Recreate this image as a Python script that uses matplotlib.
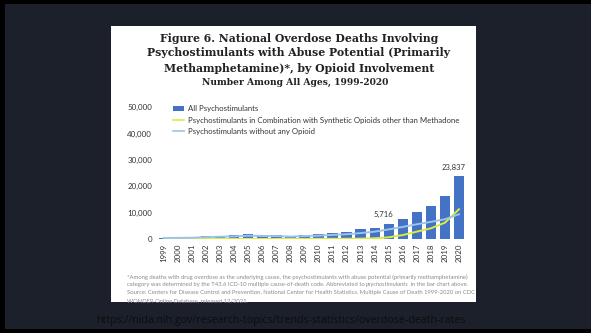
import matplotlib
matplotlib.use("Agg")
import matplotlib.pyplot as plt
from matplotlib.patches import Rectangle, Patch
from matplotlib.lines import Line2D

# Overdose deaths involving psychostimulants, 1999-2020
years = [str(y) for y in range(1999, 2021)]
all_psychostimulants = [547, 578, 660, 987, 1216, 1398, 1742, 1621, 1573, 1292, 1632,
                        1854, 2266, 2635, 3627, 4298, 5716, 7542, 10333, 12676, 16167, 23837]
with_synthetic_opioids = [10, 10, 15, 15, 20, 20, 25, 25, 30, 30, 40,
                          50, 70, 100, 140, 280, 640, 1500, 2800, 4050, 6200, 11300]
without_any_opioid = [400, 430, 480, 720, 880, 1000, 1250, 1150, 1120, 900, 1130,
                      1280, 1550, 1800, 2250, 2800, 3650, 4600, 5600, 6500, 7500, 9400]
labelled_years = ["2015", "2020"]
y_ticks = [0, 10000, 20000, 30000, 40000, 50000]

series_names = ["All Psychostimulants",
                "Psychostimulants in Combination with Synthetic Opioids other than Methadone",
                "Psychostimulants without any Opioid"]

title_lines = ["Figure 6. National Overdose Deaths Involving",
               "Psychostimulants with Abuse Potential (Primarily",
               "Methamphetamine)*, by Opioid Involvement"]
subtitle = "Number Among All Ages, 1999-2020"
# each footnote line is a list of (text, italic) runs
footnote_lines = [
    [("*Among deaths with drug overdose as the underlying cause, the psychostimulants with abuse potential (primarily methamphetamine)", False)],
    [("category was determined by the T43.6 ICD-10 multiple cause-of-death code. Abbreviated to ", False),
     ("psychostimulants", True),
     (" in the bar chart above.", False)],
    [("Source: Centers for Disease Control and Prevention, National Center for Health Statistics. Multiple Cause of Death 1999-2020 on CDC", False)],
    [("WONDER Online Database, released 12/2021.", False)],
]
source_url = "https://nida.nih.gov/research-topics/trends-statistics/overdose-death-rates"

W, H = 591, 333
BG = "#1b202b"
BAR = "#4472c4"
YELLOW = "#dcec3c"
LIGHTBLUE = "#9dc3e6"
TEXT = "#333333"


def fx(x):
    return x / W


def fy(y):
    return 1 - y / H


fig = plt.figure(figsize=(W / 100, H / 100), dpi=100)
fig.patch.set_facecolor(BG)
renderer = fig.canvas.get_renderer()

# slide frame
for (x0, y0, x1, y1, c) in [(0, 0, W, 4, "black"), (0, 0, 5, H, "black"),
                            (0, 329, W, H, "black"), (111, 26, 476, 302, "white")]:
    fig.add_artist(Rectangle((fx(x0), fy(y1)), fx(x1) - fx(x0), (y1 - y0) / H,
                             transform=fig.transFigure, facecolor=c,
                             edgecolor="none", zorder=0))

serif = "DejaVu Serif"
for i, line in enumerate(title_lines):
    fig.text(fx(299), fy(38 + i * 15), line, ha="center", va="center",
             fontsize=7.8, fontweight="bold", family=serif, color="#222222")
fig.text(fx(295), fy(82), subtitle, ha="center", va="center",
         fontsize=6.6, fontweight="bold", family=serif, color="#222222")

# chart area
ax_left, ax_right = 157, 466
ax_top, ax_bottom = 107.3, 239
ax = fig.add_axes([fx(ax_left), fy(ax_bottom), (ax_right - ax_left) / W,
                   (ax_bottom - ax_top) / H])
ax.set_facecolor("none")
x = list(range(len(years)))
ax.bar(x, all_psychostimulants, width=0.74, color=BAR, zorder=2)
ax.plot(x, with_synthetic_opioids, color=YELLOW, lw=1.4, zorder=3)
ax.plot(x, without_any_opioid, color=LIGHTBLUE, lw=1.4, zorder=3)

for yr in labelled_years:
    i = years.index(yr)
    v = all_psychostimulants[i]
    ax.annotate(f"{v:,}", (i, v), xytext=(-4, 4), textcoords="offset points",
                ha="center", va="bottom", fontsize=5.6, family="Lato",
                color=TEXT)

ax.set_xlim(-0.5, len(years) - 0.5)
ax.set_ylim(0, 50000)
ax.set_yticks(y_ticks)
ax.set_yticklabels([f"{t:,}" for t in y_ticks])
ax.set_xticks(x)
ax.set_xticklabels(years, rotation=90)
for s in ax.spines.values():
    s.set_visible(False)
ax.tick_params(length=0, labelsize=5.7, labelcolor=TEXT, pad=3.5)
for lab in ax.get_xticklabels() + ax.get_yticklabels():
    lab.set_family("Lato")

handles = [Patch(facecolor=BAR, edgecolor="none"),
           Line2D([], [], color=YELLOW, lw=1.2),
           Line2D([], [], color=LIGHTBLUE, lw=1.2)]
fig.legend(handles, series_names, loc="upper left",
           bbox_to_anchor=(fx(168), fy(100)), frameon=False,
           prop={"family": "Lato", "size": 5.6}, labelcolor=TEXT,
           handlelength=1.4, handleheight=0.6, handletextpad=0.5,
           labelspacing=0.55, borderpad=0.2)

# footnote, with runs laid out one after another
for i, runs in enumerate(footnote_lines):
    cursor = 127.0
    for text, italic in runs:
        t = fig.text(fx(cursor), fy(277 + i * 7.8), text, ha="left", va="center",
                     fontsize=4.2, family="Lato",
                     style="italic" if italic else "normal", color="#8a8a8a")
        cursor += t.get_window_extent(renderer).width

fig.text(fx(96), fy(320), source_url, ha="left", va="center",
         fontsize=7.7, family="Open Sans", color="#0d0d0d")

fig.savefig("out.png", dpi=100, facecolor=fig.get_facecolor())
